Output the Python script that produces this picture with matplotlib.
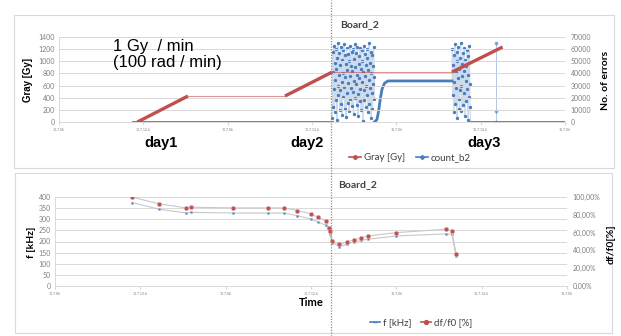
import matplotlib
matplotlib.use('Agg')
import matplotlib.pyplot as plt
from matplotlib.lines import Line2D
from matplotlib.patches import Rectangle
import numpy as np

# ── Data (time axis in tick units, 0..6) ───────────────────────────────────────
TICK_LABELS = ['10.7.06', '10.7.12.6', '10.7.06', '10.7.12.6', '11.7.06', '11.7.12.6', '11.7.06']

# Gray dose, irradiation periods (thick) and the pauses between them (thin)
dose_t = [0.93, 1.53, 2.68, 3.24, 4.66, 5.26]
dose_gy = [0, 428, 428, 823, 823, 1235]

# count_b2: quiet periods, error bursts, recovery step
quiet1_t = [0.88, 3.24]
quiet1_v = [0, 0]
burst1_span = (3.24, 3.74)
burst1_v = [3, 58, 12, 41, 63, 27, 8, 49, 35, 60, 18, 44, 2, 53, 30, 65, 22, 39, 57, 10,
            47, 26, 62, 15, 51, 33, 6, 59, 40, 21, 64, 29, 11, 55, 37, 48, 4, 61, 24, 43,
            16, 56, 32, 9, 50, 38, 63, 19, 46, 28, 58, 13, 42, 60, 25, 7, 52, 34, 64, 20,
            45, 31, 57, 14, 39, 62, 23, 5, 54, 36, 48, 17, 61, 27, 44, 10, 59, 33, 50, 1,
            41, 26, 63, 18, 56, 38, 12, 47, 30, 60, 22, 53, 8, 43, 35, 65, 15, 49, 28, 58,
            3, 40, 24, 55, 11, 46, 31, 62, 19, 37]
step_t = [3.74, 3.77, 3.79, 3.81, 3.83, 3.86, 3.90, 4.66]
step_v = [0, 2, 9, 19, 27, 32, 33.8, 33.8]
burst2_span = (4.66, 4.88)
burst2_v = [34, 60, 22, 47, 8, 55, 33, 64, 15, 41, 28, 58, 3, 50, 36, 62, 19, 44, 11, 53,
            26, 65, 30, 9, 48, 38, 57, 14, 42, 24, 61, 5, 51, 34, 46, 17, 59, 27, 39, 2,
            54, 21, 63, 31, 12, 0]
quiet2_t = [4.88, 6.0]
quiet2_v = [0, 0]
spike_t = [5.18, 5.18, 5.18]
spike_v = [0, 9, 65]

# Board_2 frequency measurements
freq_t = [0.90, 1.22, 1.54, 1.59, 2.09, 2.50, 2.68, 2.84, 3.00, 3.08, 3.17, 3.21, 3.22,
          3.25, 3.33, 3.42, 3.50, 3.59, 3.67, 4.00, 4.58, 4.65, 4.70]
freq_khz = [375, 345, 328, 331, 328, 328, 328, 316, 301, 288, 274, 248, 232,
            195, 177, 187, 198, 205, 210, 225, 234, 232, 135]
dfrel_pct = [100, 92.25, 87.75, 88.5, 87.75, 87.75, 87.75, 84.75, 81, 77.25, 73.5, 65.5, 61.5,
             51, 46.75, 49.5, 52, 54, 56.25, 60, 63.75, 62.25, 36.25]

# ── Style ─────────────────────────────────────────────────────────────────────
BLUE = '#4a7ebb'
RED = '#c0504d'
GRID = '#d9d9d9'
TICK = '#7f7f7f'
UI_FONT = 'Lato'
ARIAL = 'Liberation Sans'

W, H = 621, 336
fig = plt.figure(figsize=(W / 100, H / 100), dpi=100)


def fx(px):
    return px / W


def fy(py):
    return 1 - py / H


def style_axes(ax, ymax, ystep):
    ax.set_xlim(0, 6)
    ax.set_ylim(0, ymax)
    ax.set_yticks(np.arange(0, ymax + 1, ystep))
    ax.set_xticks(range(7))
    ax.set_xticklabels(TICK_LABELS)
    ax.grid(axis='y', color=GRID, lw=0.7)
    ax.set_axisbelow(True)
    for s in ('top', 'right'):
        ax.spines[s].set_visible(False)
    for s in ('left', 'bottom'):
        ax.spines[s].set_color(GRID)
        ax.spines[s].set_linewidth(0.7)
    ax.tick_params(axis='y', length=0, labelsize=5, labelcolor=TICK, pad=3)
    ax.tick_params(axis='x', length=2, color=GRID, labelsize=2.5, labelcolor=TICK, pad=2)
    for lab in ax.get_xticklabels() + ax.get_yticklabels():
        lab.set_family(UI_FONT)


def style_twin(ax, ymax, ystep, fmt):
    ax.set_ylim(0, ymax)
    ticks = np.arange(0, ymax + 1e-9, ystep)
    ax.set_yticks(ticks)
    ax.set_yticklabels([fmt(t) for t in ticks])
    for s in ax.spines.values():
        s.set_visible(False)
    ax.tick_params(axis='y', length=0, labelsize=5, labelcolor=TICK, pad=4)
    for lab in ax.get_yticklabels():
        lab.set_family(UI_FONT)


# chart frames
for x0, y0, x1, y1 in [(14, 15, 614, 168), (15, 173, 612, 333)]:
    fig.patches.append(Rectangle((fx(x0), fy(y1)), fx(x1 - x0), (y1 - y0) / H,
                                 transform=fig.transFigure, fill=False,
                                 edgecolor='#d9d9d9', lw=0.8))

# ── Top chart: dose and error count ──────────────────────────────────────────
ax1 = fig.add_axes([fx(59), fy(122), fx(565 - 59), (122 - 37) / H])
style_axes(ax1, 1400, 200)
ax1b = ax1.twinx()
style_twin(ax1b, 70000, 10000, lambda t: f'{int(t)}')

# blue count series
ax1b.plot(quiet1_t, quiet1_v, color=BLUE, lw=2, zorder=3)
b1_t = np.linspace(*burst1_span, len(burst1_v))
b1_v = np.array(burst1_v) * 1000
ax1b.plot(b1_t, b1_v, color='#8fb0dc', lw=0.9, alpha=0.45, zorder=2)
ax1b.plot(b1_t, b1_v, ls='none', marker='o', ms=1.4, color=BLUE, zorder=3)
ax1b.plot(step_t, np.array(step_v) * 1000, color=BLUE, lw=2, zorder=3)
b2_t = np.linspace(*burst2_span, len(burst2_v))
b2_v = np.array(burst2_v) * 1000
ax1b.plot(b2_t, b2_v, color='#8fb0dc', lw=0.9, alpha=0.45, zorder=2)
ax1b.plot(b2_t[1:-1], b2_v[1:-1], ls='none', marker='o', ms=1.4, color=BLUE, zorder=3)
ax1b.plot(quiet2_t, quiet2_v, color=BLUE, lw=2, zorder=3)
ax1b.plot(spike_t, np.array(spike_v) * 1000, color=BLUE, lw=0.6, alpha=0.5,
          marker='o', ms=1.8, zorder=3)

# red dose series: thick while irradiating, thin in between
for i in range(len(dose_t) - 1):
    irradiating = i % 2 == 0
    ax1.plot(dose_t[i:i + 2], dose_gy[i:i + 2], color=RED,
             lw=2.4 if irradiating else 0.8, alpha=1 if irradiating else 0.6,
             solid_capstyle='butt', zorder=4)
ax1.set_zorder(ax1b.get_zorder() + 1)
ax1.patch.set_visible(False)

fig.text(fx(28), fy(80), 'Gray [Gy]', rotation=90, ha='center', va='center',
         fontsize=7, fontweight='bold', family=ARIAL)
fig.text(fx(605), fy(80), 'No. of errors', rotation=90, ha='center', va='center',
         fontsize=7.5, fontweight='bold', family=UI_FONT)
fig.text(fx(340), fy(25), 'Board_2', ha='left', va='center', fontsize=7.5,
         fontweight='bold', family=UI_FONT, color='#404040')
fig.text(fx(113), fy(47), '1 Gy  / min', ha='left', va='center', fontsize=12, family=ARIAL)
fig.text(fx(113), fy(63), '(100 rad / min)', ha='left', va='center', fontsize=12, family=ARIAL)
for label, xc in [('day1', 161), ('day2', 307), ('day3', 484)]:
    fig.text(fx(xc), fy(143), label, ha='center', va='center', fontsize=10.5,
             fontweight='bold', family=ARIAL)

top_handles = [Line2D([], [], color=RED, lw=1.2, marker='o', ms=2.5),
               Line2D([], [], color=BLUE, lw=1.2, marker='D', ms=2)]
fig.legend(top_handles, ['Gray [Gy]', 'count_b2'], loc='center',
           bbox_to_anchor=(fx(410), fy(158)), ncol=2, frameon=False,
           prop={'family': UI_FONT, 'size': 7}, handlelength=1.2,
           handletextpad=0.3, columnspacing=1.2, labelcolor='#404040')

# ── Bottom chart: frequency ──────────────────────────────────────────────────
ax2 = fig.add_axes([fx(55), fy(286), fx(567 - 55), (286 - 197) / H])
style_axes(ax2, 400, 50)
ax2b = ax2.twinx()
style_twin(ax2b, 100, 20, lambda t: f'{t:.2f}'.replace('.', ',') + '%')

ax2.plot(freq_t, freq_khz, color='#c8c8c8', lw=0.8, zorder=2)
ax2.plot(freq_t, freq_khz, ls='none', marker='s', ms=2.0, color=BLUE,
         mec='#9db8dc', mew=0.4, zorder=3)
ax2b.plot(freq_t, dfrel_pct, color='#c8c8c8', lw=0.8, zorder=2)
ax2b.plot(freq_t, dfrel_pct, ls='none', marker='o', ms=3.0, color=RED,
          mec='#e0a0a0', mew=0.4, zorder=3)

fig.text(fx(32), fy(242), 'f [kHz]', rotation=90, ha='center', va='center',
         fontsize=7.5, fontweight='bold', family=UI_FONT)
fig.text(fx(611), fy(244), 'df/f0[%]', rotation=90, ha='center', va='center',
         fontsize=7.5, fontweight='bold', family=UI_FONT)
fig.text(fx(311), fy(303), 'Time', ha='center', va='center', fontsize=8,
         fontweight='bold', family=UI_FONT)
fig.text(fx(338), fy(185), 'Board_2', ha='left', va='center', fontsize=7.5,
         fontweight='bold', family=UI_FONT, color='#404040')

bottom_handles = [Line2D([], [], color=BLUE, lw=1.2, marker='_', ms=3),
                  Line2D([], [], color=RED, lw=1.2, marker='o', ms=2.8)]
fig.legend(bottom_handles, ['f [kHz]', 'df/f0 [%]'], loc='center',
           bbox_to_anchor=(fx(421), fy(323)), ncol=2, frameon=False,
           prop={'family': UI_FONT, 'size': 7}, handlelength=1.0,
           handletextpad=0.3, columnspacing=1.0, labelcolor='#404040')

# dotted marker line through both charts
fig.add_artist(Line2D([fx(331), fx(331)], [0, 1], transform=fig.transFigure,
                      color='#8c9060', lw=0.9, ls=(0, (1, 1.2))))

fig.savefig('out.png', dpi=100)
